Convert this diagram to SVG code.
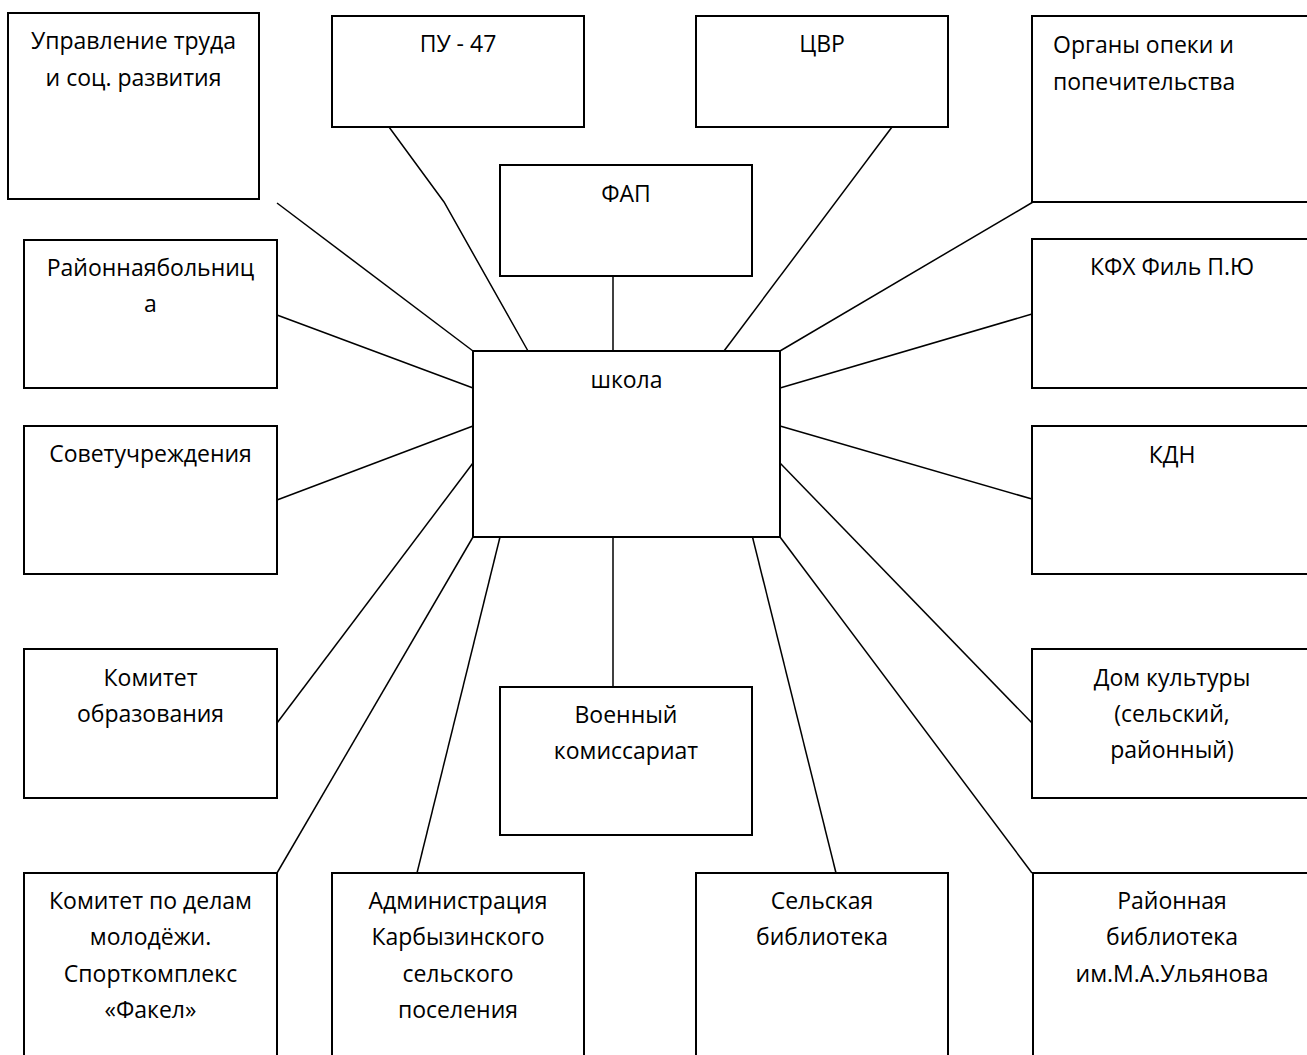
<svg xmlns="http://www.w3.org/2000/svg" width="1307" height="1055" viewBox="0 0 1307 1055">
<style>
.box{fill:#fff;stroke:#000;stroke-width:2}
.ln{fill:none;stroke:#000;stroke-width:1.5}
text{font-family:"Open Sans","Liberation Sans",Arial,sans-serif;font-size:23px;fill:#000}
.c{text-anchor:middle}
</style>
<rect width="1307" height="1055" fill="#fff"/>
<g id="connectors">
<line class="ln" x1="277" y1="203" x2="473" y2="351"/>
<polyline class="ln" points="389,127 444,202 528,351"/>
<line class="ln" x1="613" y1="276" x2="613" y2="351"/>
<line class="ln" x1="892" y1="127" x2="724" y2="351"/>
<line class="ln" x1="1033" y1="202" x2="780" y2="351"/>
<line class="ln" x1="780" y1="388" x2="1032" y2="314"/>
<line class="ln" x1="780" y1="426" x2="1032" y2="499"/>
<line class="ln" x1="780" y1="463" x2="1032" y2="723"/>
<line class="ln" x1="780" y1="537" x2="1032" y2="873"/>
<line class="ln" x1="752.5" y1="537" x2="836" y2="873"/>
<line class="ln" x1="613" y1="537" x2="613" y2="687"/>
<line class="ln" x1="500" y1="537" x2="417" y2="873"/>
<line class="ln" x1="473" y1="537" x2="277" y2="873"/>
<line class="ln" x1="473" y1="463" x2="277" y2="723"/>
<line class="ln" x1="473" y1="426" x2="277" y2="500"/>
<line class="ln" x1="473" y1="388" x2="277" y2="315"/>
</g>
<g id="n_upr"><rect class="box" x="8" y="13" width="251" height="186"/>
<text class="c" x="133.5" y="49">Управление труда</text><text class="c" x="133.5" y="86">и соц. развития</text></g>
<g id="n_pu47"><rect class="box" x="332" y="16" width="252" height="111"/>
<text class="c" x="458" y="52">ПУ - 47</text></g>
<g id="n_cvr"><rect class="box" x="696" y="16" width="252" height="111"/>
<text class="c" x="822" y="52">ЦВР</text></g>
<g id="n_organy"><rect class="box" x="1032" y="16" width="290" height="186"/>
<text x="1053" y="53">Органы опеки и</text><text x="1053" y="90">попечительства</text></g>
<g id="n_fap"><rect class="box" x="500" y="165" width="252" height="111"/>
<text class="c" x="626" y="202">ФАП</text></g>
<g id="n_bolnica"><rect class="box" x="24" y="240" width="253" height="148"/>
<text class="c" x="150.5" y="276">Районнаябольниц</text><text class="c" x="150.5" y="312">а</text></g>
<g id="n_kfh"><rect class="box" x="1032" y="239" width="290" height="149"/>
<text class="c" x="1172" y="275">КФХ Филь П.Ю</text></g>
<g id="n_school"><rect class="box" x="473" y="351" width="307" height="186"/>
<text class="c" x="626.5" y="388">школа</text></g>
<g id="n_sovet"><rect class="box" x="24" y="426" width="253" height="148"/>
<text class="c" x="150.5" y="462">Советучреждения</text></g>
<g id="n_kdn"><rect class="box" x="1032" y="426" width="290" height="148"/>
<text class="c" x="1172" y="463">КДН</text></g>
<g id="n_kom_obr"><rect class="box" x="24" y="649" width="253" height="149"/>
<text class="c" x="150.5" y="686">Комитет</text><text class="c" x="150.5" y="722">образования</text></g>
<g id="n_dk"><rect class="box" x="1032" y="649" width="290" height="149"/>
<text class="c" x="1172" y="686">Дом культуры</text><text class="c" x="1172" y="722">(сельский,</text><text class="c" x="1172" y="758">районный)</text></g>
<g id="n_voen"><rect class="box" x="500" y="687" width="252" height="148"/>
<text class="c" x="626" y="723">Военный</text><text class="c" x="626" y="759">комиссариат</text></g>
<g id="n_kom_mol"><rect class="box" x="24" y="873" width="253" height="200"/>
<text class="c" x="150.5" y="909">Комитет по делам</text><text class="c" x="150.5" y="945">молодёжи.</text><text class="c" x="150.5" y="982">Спорткомплекс</text><text class="c" x="150.5" y="1018">«Факел»</text></g>
<g id="n_adm"><rect class="box" x="332" y="873" width="252" height="200"/>
<text class="c" x="458" y="909">Администрация</text><text class="c" x="458" y="945">Карбызинского</text><text class="c" x="458" y="982">сельского</text><text class="c" x="458" y="1018">поселения</text></g>
<g id="n_sel_bib"><rect class="box" x="696" y="873" width="252" height="200"/>
<text class="c" x="822" y="909">Сельская</text><text class="c" x="822" y="945">библиотека</text></g>
<g id="n_ray_bib"><rect class="box" x="1033" y="873" width="290" height="200"/>
<text class="c" x="1172" y="909">Районная</text><text class="c" x="1172" y="945">библиотека</text><text class="c" x="1172" y="982">им.М.А.Ульянова</text></g>
</svg>
